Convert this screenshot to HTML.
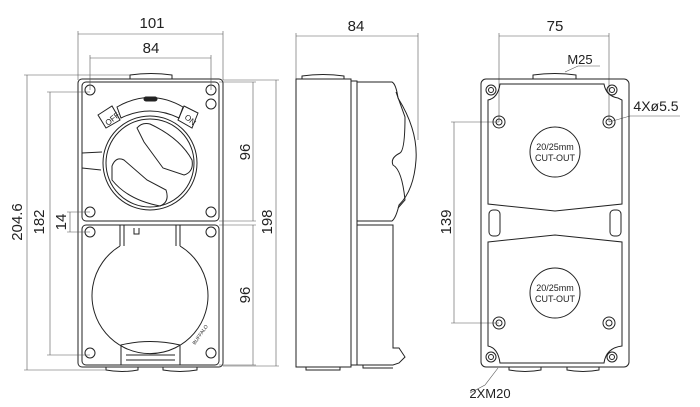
<!DOCTYPE html>
<html><head><meta charset="utf-8"><style>
html,body{margin:0;padding:0;background:#fff;}
svg{display:block;}
text{font-family:"Liberation Sans",sans-serif;fill:#222;}
</style></head><body>
<svg width="700" height="407" viewBox="0 0 700 407" xmlns="http://www.w3.org/2000/svg">
<g fill="none" stroke="#222" stroke-width="1">
<!-- LEFT VIEW -->
<path d="M130,79 L130,75 Q151,72 172,75 L172,79"/>
<rect x="78" y="79" width="145" height="288" rx="4"/>
<rect x="82" y="82" width="137" height="139" rx="4"/>
<rect x="82" y="225" width="137" height="140" rx="4"/>
<path d="M106,367 L106,370 Q122,373 138,370 L138,367 M163,367 L163,370 Q180,373 197,370 L197,367"/>
<circle cx="90" cy="90" r="5"/><circle cx="211" cy="90" r="5"/><circle cx="211" cy="104" r="5"/>
<circle cx="90" cy="212" r="5"/><circle cx="211" cy="212" r="5"/>
<circle cx="90" cy="232" r="5"/><circle cx="211" cy="232" r="5"/>
<circle cx="90" cy="353" r="5"/><circle cx="211" cy="353" r="5"/>
<!-- dial -->
<circle cx="150" cy="163" r="47"/>
<circle cx="150" cy="163" r="44"/>
<path d="M117,107 Q150,88 183,107 L179,118 Q150,104 121,118 Z"/>
<rect x="144" y="97" width="13" height="4" rx="2" fill="#222"/>
<path d="M98,115 L112,106 L120,120 L106,128 Z"/>
<path d="M184,106 L198,113 L192,128 L178,120 Z"/>
<path d="M82,153 L102,152 M82,168 L101,170"/>
<path d="M137,128 Q142,122 150,124 Q180,138 192,160 Q194,172 184,175 L163,168 L144,142 Z"/>
<path d="M112,166 Q116,156 124,160 L147,180 L166,190 Q170,202 160,206 Q128,200 112,180 Z"/>
<!-- lower lid -->
<path d="M120,225 L120,246 M180,225 L180,246 M124,225 L124,246 M176,225 L176,246"/>
<path d="M120,246 A58 58 0 1 0 180,246"/>
<path d="M134,228 L134,234 L139,234 L139,228"/>
<path d="M121,365 L121,345 Q150,338 180,345 L180,365 M126,355 L175,355 M126,360 L175,360"/>
<text x="195" y="345" font-size="5" fill="#222" stroke="none" transform="rotate(-55 195 345)">BUFFALO</text>
<text x="108" y="126" font-size="8" fill="#222" stroke="none" transform="rotate(-40 108 126)">OFF</text>
<text x="184" y="118" font-size="8" fill="#222" stroke="none" transform="rotate(40 184 118)">ON</text>
</g>
<!-- dimension lines -->
<g fill="none" stroke="#555" stroke-width="0.6">
<path d="M78,80 L78,31 M223,80 L223,31 M78,34 L223,34"/>
<path d="M90,90 L90,55 M211,90 L211,55 M90,58 L211,58"/>
<path d="M24,75 L130,75 M24,370 L106,370 M27,75 L27,370"/>
<path d="M47,92 L90,92 M47,355 L90,355 M50,92 L50,355"/>
<path d="M67,212 L90,212 M67,232 L90,232 M70,212 L70,232"/>
<path d="M219,82 L256,82 M219,221 L256,221 M219,225 L256,225 M219,365 L256,365 M253,82 L253,221 M253,225 L253,365"/>
<path d="M223,80 L279,80 M223,366 L279,366 M276,80 L276,366"/>
<path d="M296,80 L296,33 M418,140 L418,33 M296,36 L418,36"/>
<path d="M499,122 L499,33 M609,122 L609,33 M499,36 L609,36"/>
<path d="M451,122 L499,122 M451,323 L499,323 M454,122 L454,323"/>
<path d="M565,72 L578,66 L600,66 M609,122 L630,116 L680,116 M470,393 L485,385 L498,368"/>
</g>
<g font-size="15" text-anchor="middle">
<text x="152" y="28">101</text>
<text x="151" y="53">84</text>
<text x="22" y="222" transform="rotate(-90 22 222)">204.6</text>
<text x="44" y="222" transform="rotate(-90 44 222)">182</text>
<text x="66" y="222" transform="rotate(-90 66 222)">14</text>
<text x="250" y="152" transform="rotate(-90 250 152)">96</text>
<text x="250" y="295" transform="rotate(-90 250 295)">96</text>
<text x="272" y="222" transform="rotate(-90 272 222)">198</text>
<text x="356" y="31">84</text>
<text x="555" y="31">75</text>
<text x="451" y="222" transform="rotate(-90 451 222)">139</text>
<text x="580" y="64" font-size="13">M25</text>
<text x="656" y="111" font-size="14">4Xø5.5</text>
<text x="490" y="398" font-size="13">2XM20</text>
</g>
<!-- SIDE VIEW -->
<g fill="none" stroke="#222" stroke-width="1">
<path d="M302,79 L302,76 Q323,73 344,76 L344,79"/>
<rect x="296" y="79" width="55" height="288"/>
<path d="M351,81 L357,81 L357,365 L351,365"/>
<path d="M357,82 L392,82 Q396,84 398,98 Q418,130 416,160 Q414,190 399,205 Q396,218 392,221 L357,221"/>
<path d="M396,92 L405,117 Q405,150 400,153 Q390,158 393,165 Q402,170 405,200 L398,208"/>
<path d="M357,225 L393,225 L393,348 L399,348 L405,357 L399,363 L393,365 L357,365"/>
<path d="M306,367 L306,370 L340,370 L340,367 M363,365 L363,368 L393,368"/>
</g>
<!-- RIGHT VIEW -->
<g fill="none" stroke="#222" stroke-width="1">
<path d="M533,79 L533,75 Q555,72 576,75 L576,79"/>
<rect x="481" y="79" width="148" height="288" rx="5"/>
<path d="M500,84 L604,84 Q606,96 618,98 L622,100 L622,204 L555,211 L488,204 L488,100 Q498,98 500,84 Z"/>
<path d="M488,242 L555,235 L622,242 L622,346 Q606,348 604,363 L500,363 Q498,348 488,346 Z"/>
<rect x="489" y="210" width="11" height="26" rx="4"/>
<rect x="610" y="210" width="11" height="26" rx="4"/>
<circle cx="491" cy="90" r="5"/><circle cx="491" cy="90" r="2.5"/>
<circle cx="612" cy="90" r="5"/><circle cx="612" cy="90" r="2.5"/>
<circle cx="491" cy="357" r="5"/><circle cx="491" cy="357" r="2.5"/>
<circle cx="612" cy="357" r="5"/><circle cx="612" cy="357" r="2.5"/>
<circle cx="499" cy="122" r="6"/><circle cx="499" cy="122" r="3"/>
<circle cx="609" cy="122" r="6"/><circle cx="609" cy="122" r="3"/>
<circle cx="499" cy="323" r="6"/><circle cx="499" cy="323" r="3"/>
<circle cx="609" cy="323" r="6"/><circle cx="609" cy="323" r="3"/>
<circle cx="555" cy="152" r="25"/>
<circle cx="555" cy="293" r="25"/>
<path d="M509,367 L509,370 Q525,373 541,370 L541,367 M567,367 L567,370 Q583,373 599,370 L599,367"/>
</g>
<g font-size="9" text-anchor="middle">
<text x="555" y="150">20/25mm</text><text x="555" y="161">CUT-OUT</text>
<text x="555" y="291">20/25mm</text><text x="555" y="302">CUT-OUT</text>
</g>
</svg>
</body></html>
